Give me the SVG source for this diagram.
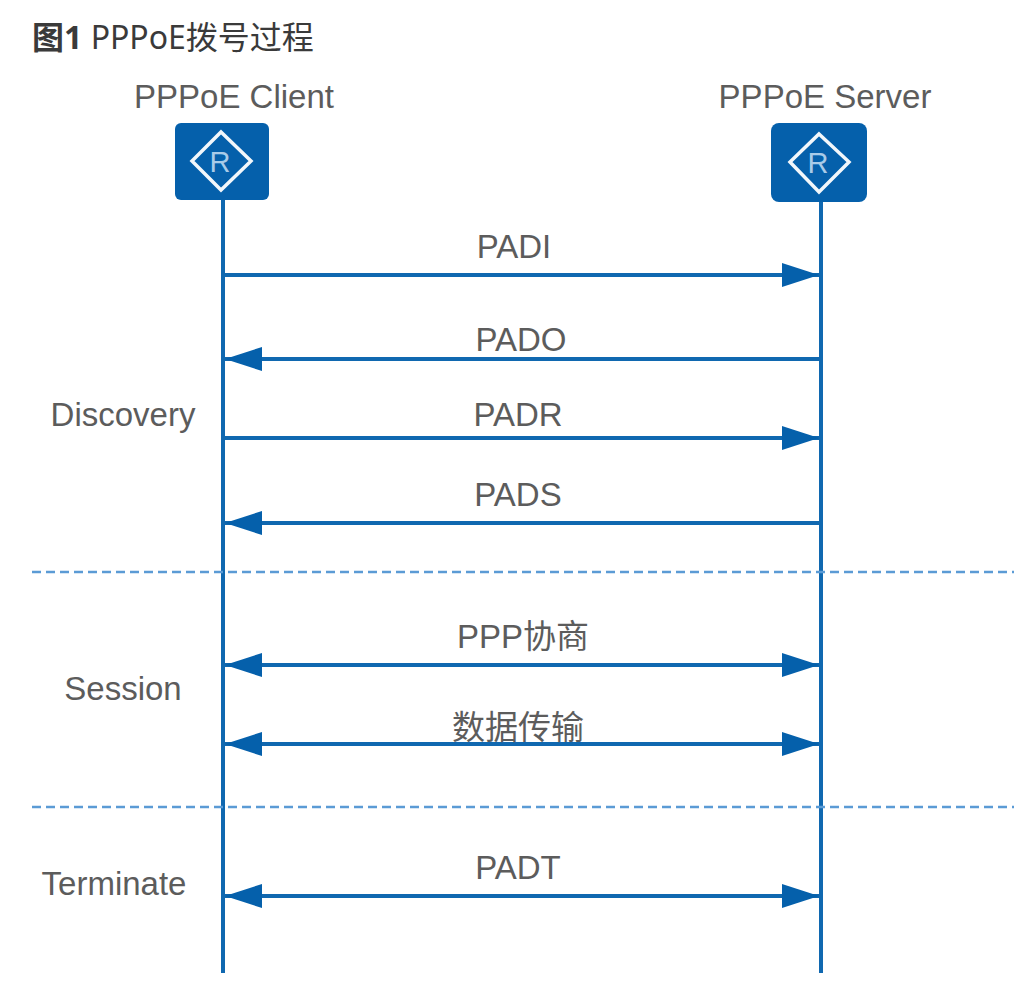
<svg xmlns="http://www.w3.org/2000/svg" width="1023" height="989" viewBox="0 0 1023 989">
<style>
text{font-family:"Liberation Sans","Noto Sans CJK SC",sans-serif;fill:#5c5c5c;font-size:33px;text-anchor:middle}
.title{font-family:"Noto Sans","Noto Sans CJK SC",sans-serif;text-anchor:start;fill:#3a3a3a;font-size:32px}
.l{fill:none;stroke:#1068b0;stroke-width:4}
.d{fill:none;stroke:#5b9bd5;stroke-width:2.6;stroke-dasharray:9 5}
.box{fill:#0560ab}
.dia{fill:none;stroke:#f2f7fb;stroke-width:3.5}
.r{fill:#a9cbe8;font-size:29px}
</style>
<defs>
<marker id="a" markerUnits="userSpaceOnUse" markerWidth="38" markerHeight="26" refX="37" refY="13" orient="auto-start-reverse"><path d="M0 1L37 13L0 25Z" fill="#0560ab"/></marker>
</defs>
<rect width="1023" height="989" fill="#fff"/>
<text class="title" x="32" y="49"><tspan font-weight="700">图1</tspan> PPPoE拨号过程</text>
<g id="client"><rect class="box" x="175" y="123" width="94" height="77" rx="6"/><path class="dia" d="M221 132L251 161L221 190L192 161Z"/><text class="r" x="220" y="172">R</text><text x="234" y="108">PPPoE Client</text></g>
<g id="server"><rect class="box" x="771" y="123" width="96" height="79" rx="8"/><path class="dia" d="M819 134L849 162L819 192L790 162Z"/><text class="r" x="818" y="173">R</text><text x="825" y="108">PPPoE Server</text></g>
<g id="connectors">
<path class="l" d="M223 200V973"/><path class="l" d="M821 202V973"/>
<path class="d" d="M32 572H1014"/><path class="d" d="M32 807H1014"/>
<path class="l" d="M223 275H819" marker-end="url(#a)"/>
<path class="l" d="M821 359H225" marker-end="url(#a)"/>
<path class="l" d="M223 438H819" marker-end="url(#a)"/>
<path class="l" d="M821 523H225" marker-end="url(#a)"/>
<path class="l" d="M225 665H819" marker-start="url(#a)" marker-end="url(#a)"/>
<path class="l" d="M225 744H819" marker-start="url(#a)" marker-end="url(#a)"/>
<path class="l" d="M225 896H819" marker-start="url(#a)" marker-end="url(#a)"/>
</g>
<g id="labels">
<text x="514" y="258">PADI</text><text x="521" y="351">PADO</text><text x="518" y="426">PADR</text><text x="518" y="506">PADS</text>
<text x="523" y="648">PPP协商</text><text x="518" y="739">数据传输</text><text x="518" y="879">PADT</text>
<text x="123" y="426">Discovery</text><text x="123" y="700">Session</text><text x="114" y="895">Terminate</text>
</g>
</svg>
